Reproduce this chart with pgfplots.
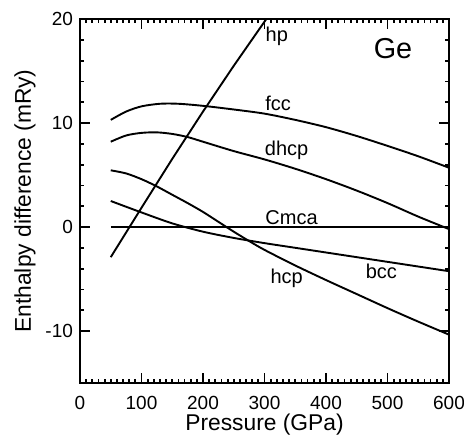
\documentclass[border=0pt]{standalone}
\usepackage{fontspec}
\setmainfont{Liberation Sans}
\usepackage{pgfplots}
\pgfplotsset{compat=1.18}

\begin{document}
\begin{tikzpicture}
  \begin{axis}[scale only axis, width=184.5pt, height=182pt,
    xmin=0, xmax=600, ymin=-15, ymax=20,
    xtick={0,100,...,600}, ytick={-10,0,10,20},
    minor x tick num=9, minor y tick num=4,
    tick align=inside, tickwidth=5pt, subtickwidth=2.2pt,
    axis line style={line width=0.9pt},
    every tick/.append style={line width=0.9pt, black},
    tick label style={font=\fontsize{9.5}{11}\selectfont},
    xticklabel style={yshift=-3pt},
    /pgf/number format/assume math mode=true,
    xlabel={Pressure (GPa)}, ylabel={Enthalpy difference (mRy)},
    label style={font=\fontsize{11.4}{13}\selectfont},
    xlabel style={at={(axis description cs:0.5,0)}, anchor=center, yshift=-21pt},
    ylabel style={at={(axis description cs:0,0.5)}, anchor=center, yshift=27.5pt}]
    % fcc
    \addplot[black, line width=0.95pt, smooth] coordinates {(50,10.3) (75,11.1) (100,11.6) (130,11.85) (160,11.85) (200,11.65) (250,11.3) (300,10.9) (350,10.3) (400,9.6) (450,8.75) (500,7.8) (550,6.8) (600,5.7)};
    % dhcp
    \addplot[black, line width=0.95pt, smooth] coordinates {(50,8.2) (75,8.8) (100,9.05) (125,9.1) (150,8.95) (175,8.65) (200,8.2) (250,7.3) (300,6.5) (350,5.6) (400,4.6) (450,3.5) (500,2.3) (550,1.0) (600,-0.2)};
    % hcp
    \addplot[black, line width=0.95pt, smooth] coordinates {(50,5.45) (75,5.15) (100,4.6) (125,3.9) (150,3.1) (175,2.3) (200,1.45) (225,0.5) (250,-0.45) (275,-1.35) (300,-2.2) (350,-3.7) (400,-5.1) (450,-6.45) (500,-7.8) (550,-9.1) (600,-10.35)};
    % bcc
    \addplot[black, line width=0.95pt, smooth] coordinates {(50,2.5) (100,1.4) (150,0.35) (200,-0.45) (250,-1.05) (300,-1.55) (350,-2.0) (400,-2.45) (450,-2.9) (500,-3.35) (550,-3.8) (600,-4.25)};
    % Cmca
    \addplot[black, line width=0.95pt] coordinates {(50,0) (600,0)};
    % hp
    \addplot[black, line width=0.95pt] coordinates {(50,-2.9) (100,1.85) (150,6.55) (200,11.1) (250,15.5) (303,20)};
    \node[font=\fontsize{10}{12}\selectfont] at (axis cs:320,18.3) {hp};
    \node[font=\fontsize{14.4}{16}\selectfont] at (axis cs:509,17.2) {Ge};
    \node[font=\fontsize{10}{12}\selectfont] at (axis cs:322,11.9) {fcc};
    \node[font=\fontsize{10}{12}\selectfont] at (axis cs:336,7.4) {dhcp};
    \node[font=\fontsize{10}{12}\selectfont] at (axis cs:344,0.95) {Cmca};
    \node[font=\fontsize{10}{12}\selectfont] at (axis cs:490,-4.3) {bcc};
    \node[font=\fontsize{10}{12}\selectfont] at (axis cs:336,-4.95) {hcp};
  \end{axis}
  \pgfresetboundingbox
  \path ([xshift=-40pt,yshift=-28pt]current axis.south west) rectangle ([xshift=7.5pt,yshift=9.5pt]current axis.north east);
\end{tikzpicture}
\end{document}
